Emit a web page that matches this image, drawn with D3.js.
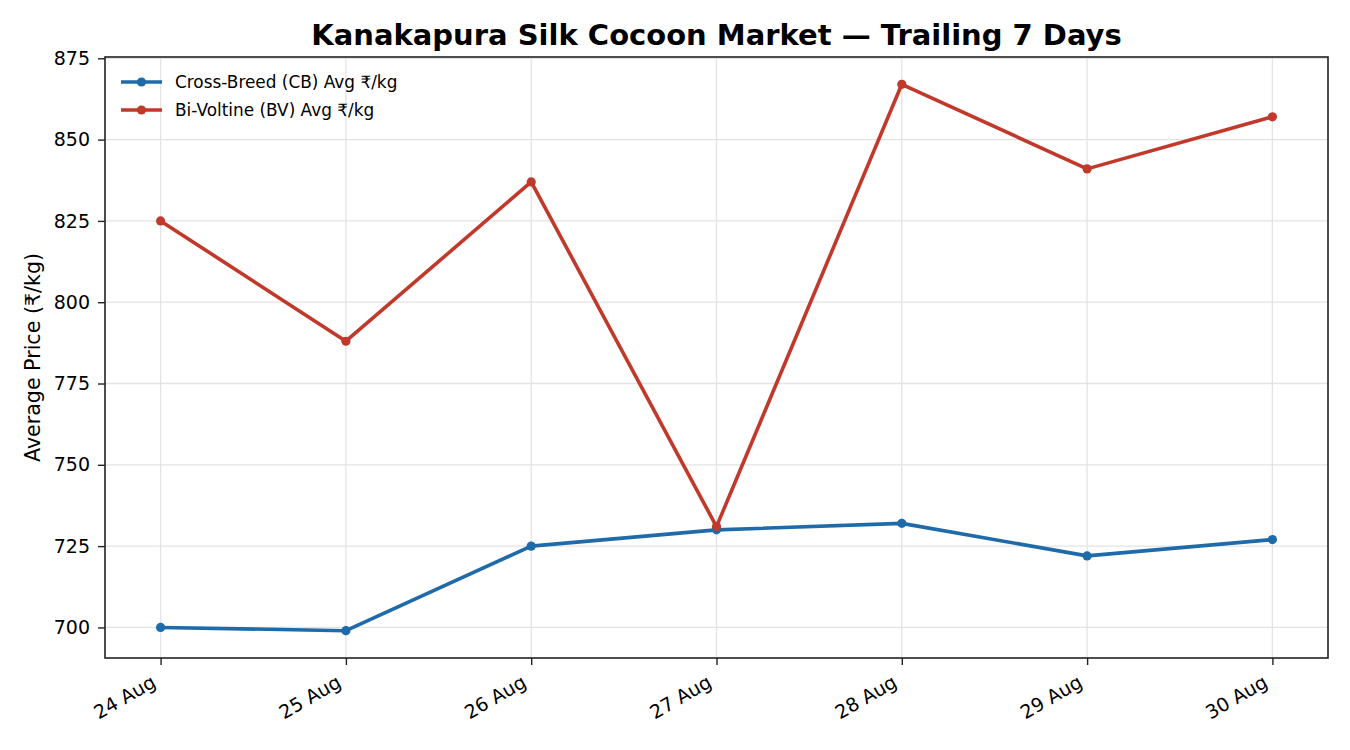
<!DOCTYPE html>
<html>
<head>
<meta charset="utf-8">
<script src="https://cdn.jsdelivr.net/npm/d3@7"></script>
<style>
  body { margin: 0; background: #fff; }
  text { font-family: "DejaVu Sans", sans-serif; }
</style>
</head>
<body>
<svg width="1350" height="750"></svg>
<script>
const days = ['24 Aug', '25 Aug', '26 Aug', '27 Aug', '28 Aug', '29 Aug', '30 Aug'];
const cbAvg = [700, 699, 725, 730, 732, 722, 727];
const bvAvg = [825, 788, 837, 731, 867, 841, 857];
const yTicks = [700, 725, 750, 775, 800, 825, 850, 875];

const FONT = 'DejaVu Sans';
const svg = d3.select('svg').attr('font-family', FONT);
const margin = {left: 105, right: 22, top: 57, bottom: 92};
const width = 1350, height = 750;

// x as index so matplotlib-like padding works
const x = d3.scaleLinear().domain([-0.3, days.length - 1 + 0.3])
  .range([margin.left, width - margin.right]);
const y = d3.scaleLinear().domain([690.6, 875.4])
  .range([height - margin.bottom, margin.top]);

// grid
const g = svg.append('g');
g.selectAll('.vg').data(days).enter().append('line')
  .attr('x1', (d, i) => x(i)).attr('x2', (d, i) => x(i))
  .attr('y1', margin.top).attr('y2', height - margin.bottom)
  .attr('stroke', '#e3e3e3').attr('stroke-width', 1.3);
g.selectAll('.hg').data(yTicks).enter().append('line')
  .attr('x1', margin.left).attr('x2', width - margin.right)
  .attr('y1', d => y(d)).attr('y2', d => y(d))
  .attr('stroke', '#e3e3e3').attr('stroke-width', 1.3);

const series = [
  {name: 'Cross-Breed (CB) Avg ₹/kg', vals: cbAvg, color: '#1f6aa8'},
  {name: 'Bi-Voltine (BV) Avg ₹/kg', vals: bvAvg, color: '#c0392b'}
];

const line = d3.line().x((d, i) => x(i)).y(d => y(d));
series.forEach(s => {
  svg.append('path').datum(s.vals)
    .attr('d', line).attr('fill', 'none')
    .attr('stroke', s.color).attr('stroke-width', 3.6)
    .attr('stroke-linejoin', 'round');
  svg.selectAll(null).data(s.vals).enter().append('circle')
    .attr('cx', (d, i) => x(i)).attr('cy', d => y(d))
    .attr('r', 4.6).attr('fill', s.color);
});

// axes
const xAxis = d3.axisBottom(x).tickValues(d3.range(days.length))
  .tickFormat(i => days[i]).tickSize(7).tickPadding(5);
const xa = svg.append('g').attr('transform', `translate(0,${height - margin.bottom})`).call(xAxis)
  .attr('font-family', FONT).attr('font-size', 19);
xa.select('.domain').remove();
xa.selectAll('.tick line').attr('stroke', '#222').attr('stroke-width', 1.4);
xa.selectAll('.tick text')
  .attr('fill', '#000')
  .attr('text-anchor', 'end')
  .attr('dy', null).attr('y', 0)
  .attr('transform', 'translate(-4,28) rotate(-30)');

const yAxis = d3.axisLeft(y).tickValues(yTicks).tickSize(7).tickPadding(8);
const ya = svg.append('g').attr('transform', `translate(${margin.left},0)`).call(yAxis)
  .attr('font-family', FONT).attr('font-size', 19);
ya.select('.domain').remove();
ya.selectAll('.tick line').attr('stroke', '#222').attr('stroke-width', 1.4);
ya.selectAll('.tick text').attr('fill', '#000');

// frame
svg.append('rect')
  .attr('x', margin.left).attr('y', margin.top)
  .attr('width', width - margin.left - margin.right)
  .attr('height', height - margin.top - margin.bottom)
  .attr('fill', 'none').attr('stroke', '#222').attr('stroke-width', 1.6);

// title and labels
svg.append('text').attr('x', (margin.left + width - margin.right) / 2).attr('y', 45)
  .attr('text-anchor', 'middle').attr('font-size', 29).attr('font-weight', 'bold')
  .text('Kanakapura Silk Cocoon Market — Trailing 7 Days');

svg.append('text')
  .attr('transform', `translate(40,${(margin.top + height - margin.bottom) / 2}) rotate(-90)`)
  .attr('text-anchor', 'middle').attr('font-size', 20.6)
  .text('Average Price (₹/kg)');

// legend
const leg = svg.append('g').attr('transform', `translate(${margin.left + 16},82)`);
series.forEach((s, i) => {
  const row = leg.append('g').attr('transform', `translate(0,${i * 28})`);
  row.append('line').attr('x1', 0).attr('x2', 41).attr('y1', 0).attr('y2', 0)
    .attr('stroke', s.color).attr('stroke-width', 3.6);
  row.append('circle').attr('cx', 20.5).attr('cy', 0).attr('r', 4.6).attr('fill', s.color);
  row.append('text').attr('x', 54).attr('y', 0).attr('dy', '0.35em')
    .attr('font-size', 16.9).text(s.name);
});
</script>
</body>
</html>
